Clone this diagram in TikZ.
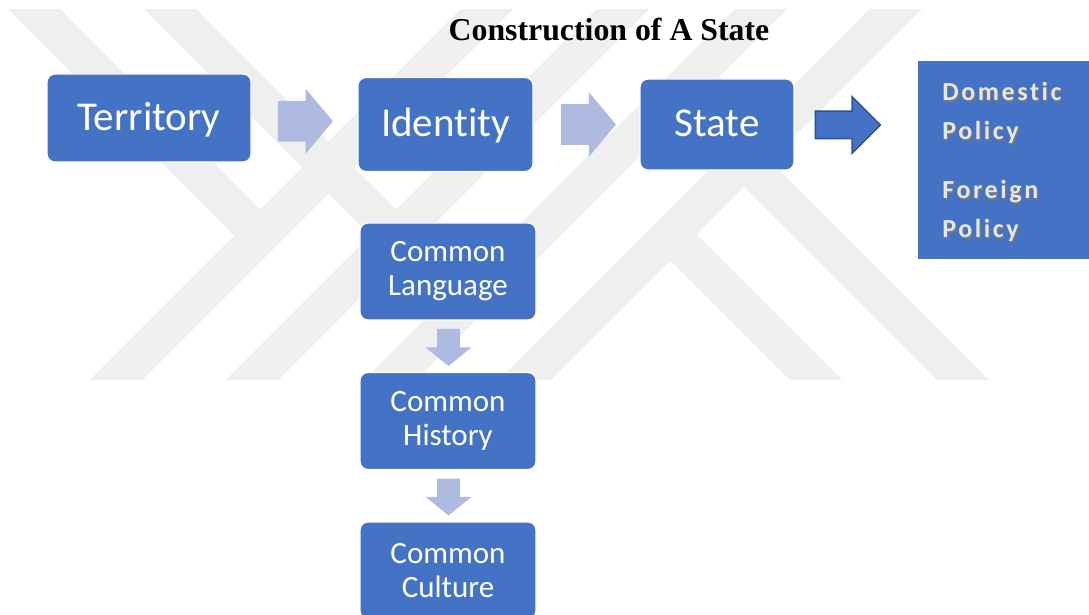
\documentclass[tikz,border=0pt]{standalone}
\usepackage{fontspec}
\usepackage{tikz}
\usetikzlibrary{shapes.arrows}
\usetikzlibrary{calc}
\newfontfamily\calibri[Ligatures=NoCommon]{Carlito}
\newfontfamily\polfont[LetterSpace=10, Ligatures=NoCommon]{Carlito}
\newfontfamily\timesfont{Liberation Serif}
\definecolor{boxblue}{RGB}{68,114,196}
\definecolor{arrowlight}{RGB}{174,186,223}
\definecolor{arrowedge}{RGB}{47,82,143}
\definecolor{wmgray}{RGB}{239,239,239}
\definecolor{polgray}{RGB}{230,230,230}
\definecolor{polshade}{RGB}{120,120,120}
\newcommand{\shadowed}[1]{\rlap{\hspace{0.6pt}\raisebox{-0.6pt}{\textcolor{polshade}{#1}}}#1}

\begin{document}
\begin{tikzpicture}[x=0.5pt, y=-0.5pt]
\tikzset{wmband/.style = {draw=wmgray, line width=18.5pt}}
\tikzset{bigbox/.style = {rounded corners=4pt, fill=boxblue, draw=white, line width=0.6pt, text=white, inner sep=0pt, font=\calibri\fontsize{20.5}{24}\selectfont, text height=18pt, text depth=5.5pt}}
\tikzset{combox/.style = {rounded corners=4pt, fill=boxblue, draw=white, line width=0.6pt, text=white, inner sep=0pt, align=center, font=\calibri\fontsize{15.5}{17}\selectfont, minimum width=88pt, minimum height=48.5pt}}
\tikzset{poltext/.style = {text=polgray, inner sep=0pt, anchor=base west, font=\polfont\bfseries\fontsize{13}{15}\selectfont}}
\tikzset{lightarrow/.style = {single arrow, fill=arrowlight, inner sep=0pt, anchor=tail, single arrow head extend=6pt, single arrow tip angle=100, text height=10pt, text depth=10pt, minimum height=27.5pt}}
\tikzset{downarrow/.style = {single arrow, fill=arrowlight, inner sep=0pt, anchor=tail, single arrow head extend=5.75pt, single arrow tip angle=102, text height=5.5pt, text depth=5.5pt, minimum height=18.5pt, rotate=-90}}
\tikzset{darkarrow/.style = {single arrow, fill=boxblue, draw=arrowedge, line width=0.75pt, inner sep=0pt, anchor=tail, single arrow head extend=7.25pt, single arrow tip angle=90, text height=6.5pt, text depth=6.5pt, minimum height=32.5pt}}
\useasboundingbox (0,0) rectangle (1089,615);
% watermark
\begin{scope}
\clip (0,10) rectangle (1089,380);
\draw[wmband] (101,395) -- (501,-5);
\draw[wmband] (237,395) -- (637,-5);
\draw[wmband] (375,395) -- (775,-5);
\draw[wmband] (510,395) -- (910,-5);
\draw[wmband] (20,-5) -- (260.5,235.5);
\draw[wmband] (156,-5) -- (396.5,235.5);
\draw[wmband] (670.5,234.5) -- (831,395);
\draw[wmband] (744,161) -- (978,395);
\end{scope}
\node[font=\timesfont\bfseries\fontsize{15.9}{18}\selectfont, anchor=base](title) at (609, 41) {Construction of A State};
\node[bigbox, minimum width=102pt, minimum height=44pt](ter) at (149, 118) {Territory};
\node[bigbox, minimum width=87.5pt, minimum height=47pt](ide) at (445.5, 124.5) {Identity};
\node[bigbox, minimum width=77pt, minimum height=45.5pt](sta) at (717, 124.5) {State};
\node[fill=boxblue, minimum width=87pt, minimum height=99pt, inner sep=0pt](pol) at (1005, 160) {};
\node[poltext](domA) at (942, 101) {\shadowed{Domestic}};
\node[poltext](domB) at (942, 140) {\shadowed{Policy}};
\node[poltext](forA) at (942, 199) {\shadowed{Foreign}};
\node[poltext](forB) at (942, 238) {\shadowed{Policy}};
\node[combox](cl) at (448, 271.5) {Common\\Language};
\node[combox](ch) at (448, 421) {Common\\History};
\node[combox](cc) at (448, 570.5) {Common\\Culture};
\node[lightarrow](arTI) at ($(ter.east)!0.5!(ide.west)+(-27,0)$) {};
\node[lightarrow](arIS) at ($(ide.east)+(27,0)$) {};
\node[darkarrow](arSP) at ($(sta.east)+(20,0.5)$) {};
\node[downarrow](arLH) at ($(cl.south)+(0.5,8)$) {};
\node[downarrow](arHC) at ($(ch.south)+(0.5,8)$) {};
\end{tikzpicture}
\end{document}
